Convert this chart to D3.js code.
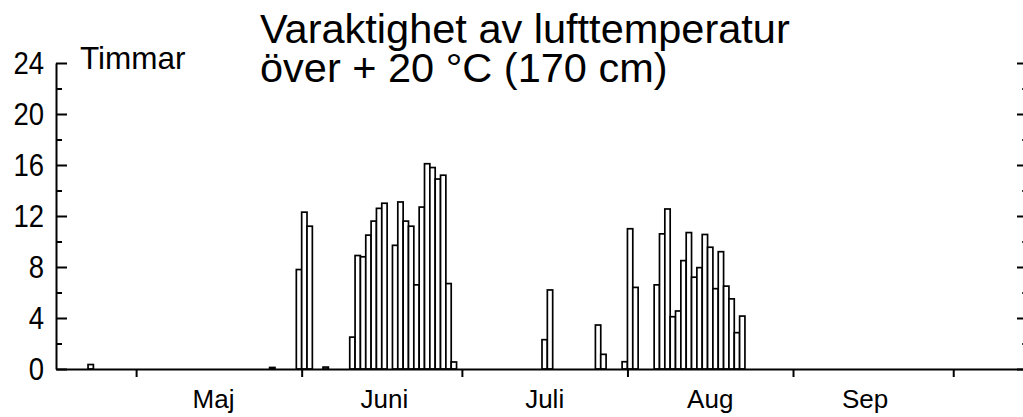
<!DOCTYPE html>
<html>
<head>
<meta charset="utf-8">
<script src="https://cdn.jsdelivr.net/npm/d3@7"></script>
<style>
  html, body { margin: 0; padding: 0; background: #fff; }
  svg { display: block; font-family: "Liberation Sans", Arial, sans-serif; }
</style>
</head>
<body>
<div id="chart"></div>
<script>
  'use strict';

  // days with hours above +20 C (missing days = 0)
  var dates = [
    '2000-04-22', '2000-05-26', '2000-05-31', '2000-06-01', '2000-06-02', '2000-06-05',
    '2000-06-10', '2000-06-11', '2000-06-12', '2000-06-13', '2000-06-14', '2000-06-15',
    '2000-06-16', '2000-06-18', '2000-06-19', '2000-06-20', '2000-06-21', '2000-06-22',
    '2000-06-23', '2000-06-24', '2000-06-25', '2000-06-26', '2000-06-27', '2000-06-28',
    '2000-06-29', '2000-07-16', '2000-07-17', '2000-07-26', '2000-07-27', '2000-07-31',
    '2000-08-01', '2000-08-02', '2000-08-06', '2000-08-07', '2000-08-08', '2000-08-09',
    '2000-08-10', '2000-08-11', '2000-08-12', '2000-08-13', '2000-08-14', '2000-08-15',
    '2000-08-16', '2000-08-17', '2000-08-18', '2000-08-19', '2000-08-20', '2000-08-21',
    '2000-08-22'
  ];
  var hours = [
    0.35, 0.12, 7.8, 12.3, 11.2, 0.15,
    2.5, 8.9, 8.8, 10.5, 11.6, 12.6,
    13.0, 9.7, 13.1, 11.6, 11.2, 6.6,
    12.7, 16.1, 15.8, 14.9, 15.2, 6.7,
    0.55, 2.3, 6.2, 3.45, 1.15, 0.57,
    11.0, 6.4, 6.6, 10.6, 12.55, 4.1,
    4.55, 8.5, 10.7, 7.2, 7.95, 10.55,
    9.55, 6.3, 9.2, 6.5, 5.5, 2.85,
    4.15
  ];

  var monthStarts = ['2000-05-01', '2000-06-01', '2000-07-01', '2000-08-01', '2000-09-01', '2000-10-01'];
  var monthLabels = ['Maj', 'Juni', 'Juli', 'Aug', 'Sep'];
  var monthLabelDays = ['2000-05-15', '2000-06-16', '2000-07-16', '2000-08-16', '2000-09-14'];
  var yMajor = [0, 4, 8, 12, 16, 20, 24];
  var yMinor = [2, 6, 10, 14, 18, 22];
  var titleLines = ['Varaktighet av lufttemperatur', 'över + 20 °C (170 cm)'];
  var yUnit = 'Timmar';

  (function () {
    var W = 1023, H = 417,
        xLeft = 56, xRight = 1028, yTop = 63, base = 369,
        parse = d3.utcParse('%Y-%m-%d'),
        day = 864e5,
        squeeze = 0.86; // the y labels are a narrow face

    var x = d3.scaleUtc()
      .domain([parse('2000-04-16'), parse('2000-10-15')])
      .range([xLeft, xRight]);

    var y = d3.scaleLinear()
      .domain([0, 24])
      .range([base, yTop]);

    var svg = d3.select('#chart').append('svg')
      .attr('width', W)
      .attr('height', H);

    var data = dates.map(function (d, i) {
      return { date: parse(d), value: hours[i] };
    });

    // bars, one per day, hollow
    svg.append('g').selectAll('rect')
      .data(data)
      .enter()
      .append('rect')
        .attr('x', function (d) { return x(d.date); })
        .attr('y', function (d) { return y(d.value); })
        .attr('width', function (d) { return x(new Date(+d.date + day)) - x(d.date); })
        .attr('height', function (d) { return base - y(d.value); })
        .attr('fill', '#fff')
        .attr('stroke', '#000')
        .attr('stroke-width', 1.7);

    // bottom axis with month ticks
    var xAxis = svg.append('g')
      .attr('transform', 'translate(0,' + base + ')')
      .call(d3.axisBottom(x)
        .tickValues(monthStarts.map(parse))
        .tickSize(8)
        .tickSizeOuter(0)
        .tickFormat(''));
    xAxis.select('.domain').attr('stroke-width', 2.2);
    xAxis.selectAll('.tick line').attr('stroke-width', 2);

    svg.append('g').selectAll('text')
      .data(monthLabels)
      .enter()
      .append('text')
        .attr('x', function (d, i) { return x(new Date(+parse(monthLabelDays[i]) + day / 2)); })
        .attr('y', 408)
        .attr('text-anchor', 'middle')
        .attr('font-size', 26)
        .text(function (d) { return d; });

    // left axis, ticks pointing inward
    var yAxis = svg.append('g')
      .attr('transform', 'translate(' + xLeft + ',0)')
      .call(d3.axisLeft(y)
        .tickValues(yMajor)
        .tickSize(-11)
        .tickSizeOuter(0)
        .tickPadding(12));
    yAxis.select('.domain').attr('stroke-width', 2);
    yAxis.selectAll('.tick line').attr('stroke-width', 2);
    yAxis.selectAll('.tick text')
      .attr('x', -12 / squeeze)
      .attr('transform', 'scale(' + squeeze + ',1)')
      .attr('font-size', 32)
      .attr('font-family', '"Liberation Sans", Arial, sans-serif')
      .attr('fill', '#000');

    svg.append('g')
      .attr('transform', 'translate(' + xLeft + ',0)')
      .call(d3.axisLeft(y).tickValues(yMinor).tickSize(-6).tickSizeOuter(0).tickFormat(''))
      .call(function (g) { g.select('.domain').remove(); })
      .selectAll('.tick line').attr('stroke-width', 2);

    // right axis, mostly off the page
    var yRight = svg.append('g')
      .attr('transform', 'translate(' + xRight + ',0)')
      .call(d3.axisRight(y).tickValues(yMajor).tickSize(-11).tickSizeOuter(0).tickFormat(''));
    yRight.selectAll('.tick line').attr('stroke-width', 2);

    svg.append('g')
      .attr('transform', 'translate(' + xRight + ',0)')
      .call(d3.axisRight(y).tickValues(yMinor).tickSize(-6).tickSizeOuter(0).tickFormat(''))
      .call(function (g) { g.select('.domain').remove(); })
      .selectAll('.tick line').attr('stroke-width', 1.5);

    svg.append('text')
      .attr('x', 80)
      .attr('y', 69)
      .attr('font-size', 31.5)
      .text(yUnit);

    // two-line title in one text element
    svg.append('text')
      .attr('font-size', 41.5)
      .selectAll('tspan')
      .data(titleLines)
      .enter()
      .append('tspan')
        .attr('x', 260)
        .attr('y', function (d, i) { return 43 + i * 39; })
        .text(function (d) { return d; });
  })();
</script>
</body>
</html>
